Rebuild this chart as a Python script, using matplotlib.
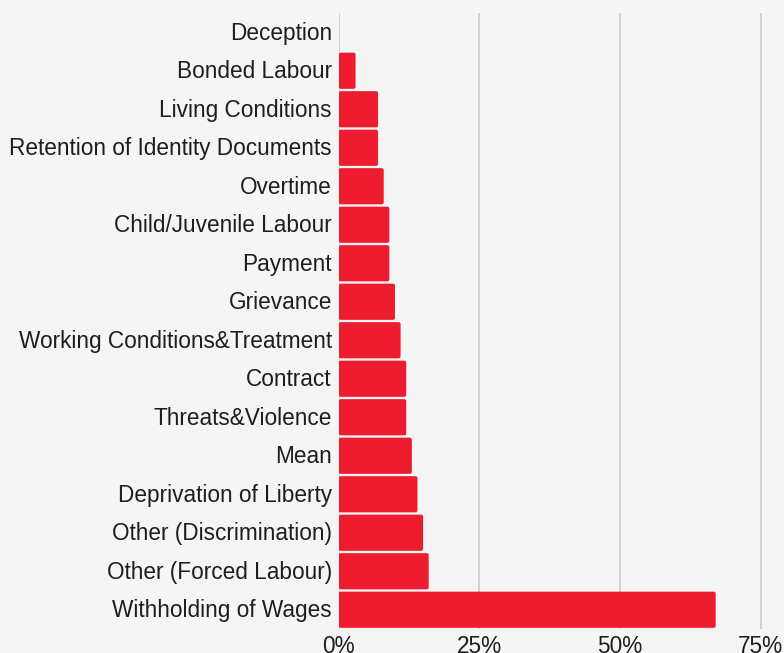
import matplotlib.pyplot as plt
from matplotlib.patches import FancyBboxPatch
from matplotlib.transforms import ScaledTranslation

categories = ["Deception", "Bonded Labour", "Living Conditions", "Retention of Identity Documents",
              "Overtime", "Child/Juvenile Labour", "Payment", "Grievance",
              "Working Conditions&Treatment", "Contract", "Threats&Violence", "Mean",
              "Deprivation of Liberty", "Other (Discrimination)", "Other (Forced Labour)",
              "Withholding of Wages"]
values = [0, 3, 7, 7, 8, 9, 9, 10, 11, 12, 12, 13, 14, 15, 16, 67]
xticks = [0, 25, 50, 75]
xticklabels = ["0%", "25%", "50%", "75%"]

bg = "#f5f5f5"
red = "#ed1c2e"

plt.rcParams['font.family'] = ['Liberation Sans', 'DejaVu Sans']

fig = plt.figure(figsize=(7.84, 6.53), dpi=100, facecolor=bg)
W, H = 784, 653
x0, x75 = 338.7, 760.7
top, bot = 13, 629
ax = fig.add_axes([x0 / W, 1 - bot / H, (W - x0) / W, (bot - top) / H], facecolor=bg)
px_per_unit = (x75 - x0) / 75
ax.set_xlim(0, (W - x0) / px_per_unit)
ax.set_ylim(len(categories) - 0.5, -0.5)

# bars drawn by matplotlib, then swapped for rounded boxes
bars = ax.barh(range(len(categories)), values, height=0.94, color=red)
ypx = (bot - top) / len(categories)
r = 2 / px_per_unit
for b in bars:
    b.set_visible(False)
    if b.get_width() <= 0:
        continue
    p = FancyBboxPatch((b.get_x(), b.get_y()), b.get_width(), b.get_height(),
                       boxstyle=f"round,pad=0,rounding_size={r}",
                       mutation_aspect=px_per_unit / ypx,
                       facecolor=red, edgecolor="none", zorder=3)
    ax.add_patch(p)

ax.set_yticks(range(len(categories)))
ax.set_yticklabels(categories)
ax.set_xticks(xticks)
ax.set_xticklabels(xticklabels)
ax.tick_params(axis='y', length=0, pad=5, labelsize=16.3, labelcolor="#1e1e1e")
ax.tick_params(axis='x', length=0, pad=4, labelsize=16.3, labelcolor="#1e1e1e")
shift = ScaledTranslation(0, 1.5 / 100, fig.dpi_scale_trans)
for lab in ax.get_yticklabels():
    lab.set_transform(lab.get_transform() + shift)
ax.grid(axis='x', color="#cccccc", linewidth=1.2)
ax.set_axisbelow(True)
for s in ax.spines.values():
    s.set_visible(False)

fig.savefig("out.png", dpi=100, facecolor=bg)
